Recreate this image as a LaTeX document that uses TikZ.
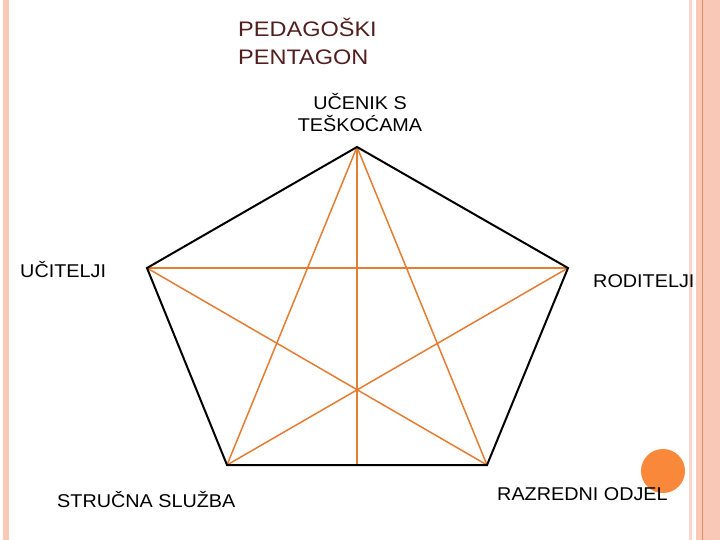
\documentclass[tikz,border=0pt]{standalone}
\usepackage{fontspec}
\setmainfont{Liberation Sans}
\definecolor{titlebrown}{RGB}{82,30,30}
\definecolor{starorange}{RGB}{228,124,50}
\definecolor{dotorange}{RGB}{250,136,58}
\definecolor{stripepink}{RGB}{250,200,182}
\definecolor{stripeline}{RGB}{226,140,98}

\begin{document}
\begin{tikzpicture}[x=1pt,y=-1pt,
  lbl/.style={inner sep=0pt,font=\fontsize{18.5}{22}\selectfont,xscale=1.07},
  edge/.style={black,line width=2pt},
  star/.style={starorange,line width=1.5pt}]
\useasboundingbox (0,0) rectangle (720,540);
% side stripes
\fill[stripepink] (3,0) rectangle (9,540);
\fill[stripepink!75] (689,0) rectangle (692,540);
\fill[stripepink] (696,0) rectangle (720,540);
\draw[stripeline] (702,0) -- (702,540);
% pentagon corners
\coordinate (top) at (357,147);
\coordinate (left) at (147,268);
\coordinate (right) at (568,268);
\coordinate (botl) at (227,465);
\coordinate (botr) at (487,465);
\coordinate (botm) at (357,465);
\draw[star] (top) -- (botl);
\draw[star] (top) -- (botr);
\draw[star] (top) -- (botm);
\draw[star] (left) -- (right);
\draw[star] (left) -- (botr);
\draw[star] (right) -- (botl);
\draw[edge,line join=miter] (top) -- (right) -- (botr) -- (botl) -- (left) -- cycle;
\node[circle,fill=dotorange,minimum size=44pt,inner sep=0pt] (dot) at (663,471) {};
% texts
\node[inner sep=0pt,anchor=north west,align=left,text=titlebrown,font=\fontsize{21}{28}\selectfont,xscale=1.12] (title) at (238,18) {PEDAGOŠKI\\PENTAGON};
\node[lbl,anchor=north,align=center] (pupil) at (360,93.5) {UČENIK S\\TEŠKOĆAMA};
\node[lbl,anchor=base west] (teachers) at (20,277) {UČITELJI};
\node[lbl,anchor=base west] (parents) at (593,287) {RODITELJI};
\node[lbl,anchor=base west] (experts) at (57,507) {STRUČNA SLUŽBA};
\node[lbl,anchor=base west] (classdep) at (497,500) {RAZREDNI ODJEL};
\end{tikzpicture}
\end{document}
